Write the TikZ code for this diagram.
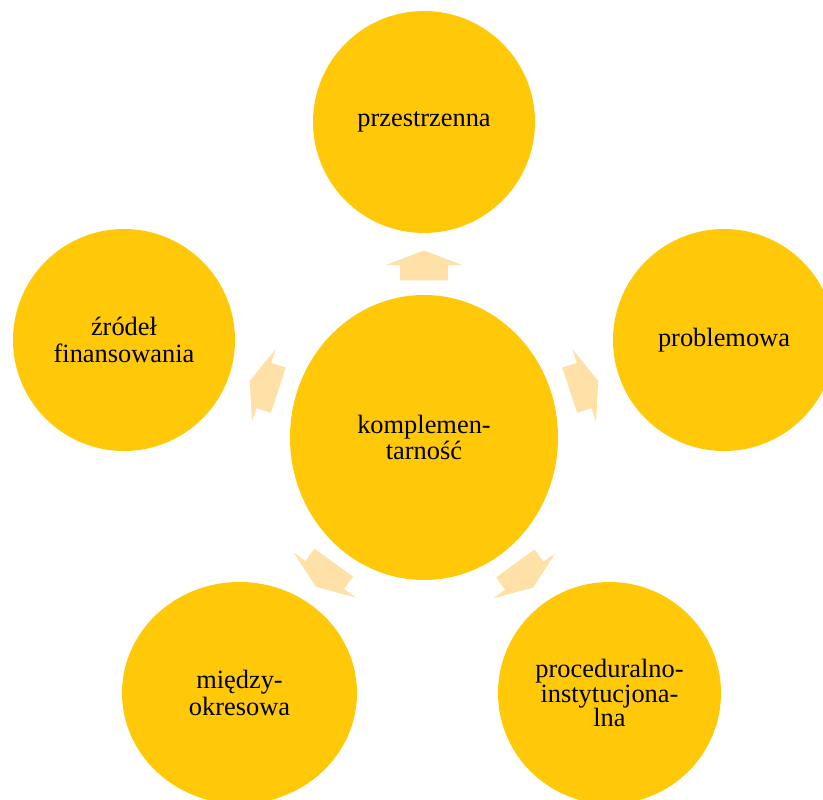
\documentclass[tikz,border=0pt]{standalone}
\usepackage{fontspec}
\setmainfont{Liberation Serif}
\usepackage{tikz}
\usetikzlibrary{shapes.geometric,shapes.arrows,positioning,calc}
\definecolor{kmGold}{HTML}{FFC90A}
\definecolor{kmPeach}{HTML}{FFE1A8}
\tikzset{
  hub/.style={ellipse, fill=kmGold, inner sep=0pt, align=center, font=\fontsize{19.8}{20}\selectfont, minimum width=201pt, minimum height=213.75pt},
  bubble/.style={ellipse, fill=kmGold, inner sep=0pt, align=center, font=\fontsize{19.8}{20}\selectfont, minimum width=166.5pt, minimum height=166.5pt},
  blockarr/.style={single arrow, fill=kmPeach, draw=none, inner sep=0pt, text width=0pt, text height=35.25pt, text depth=0pt, minimum height=22.5pt, single arrow head extend=10.9pt, single arrow tip angle=138, sloped, allow upside down, xshift=-4.5pt}
}
\begin{document}
\begin{tikzpicture}[x=0.75pt,y=0.75pt]
  \useasboundingbox (0,0) rectangle (823,799);
  \clip (0,0) rectangle (823,799);
  % centre and the five outer circles
  \node[hub] (kompl) at (424,361.5) {komplemen-\\tarność};
  \node[bubble] (przes) at (424,677) {przestrzenna};
  \node[bubble] (probl) at (724,459) {problemowa};
  \node[bubble] (zrodl) at (124,459) {źródeł\\finansowania};
  \node[bubble, minimum width=176.25pt] (miedz) at (239.5,106) {między-\\okresowa};
  \node[bubble, minimum width=167.25pt, font=\fontsize{19.8}{18.5}\selectfont] (proce) at (609.5,106) {proceduralno-\\instytucjona-\\lna};
  % block arrows from the centre outwards
  \path (kompl) -- node[blockarr] (toPrzes) {} (przes);
  \path (kompl) -- node[blockarr] (toProbl) {} (probl);
  \path (kompl) -- node[blockarr] (toZrodl) {} (zrodl);
  \path (kompl) -- node[blockarr] (toMiedz) {} (miedz);
  \path (kompl) -- node[blockarr] (toProce) {} (proce);
\end{tikzpicture}
\end{document}
